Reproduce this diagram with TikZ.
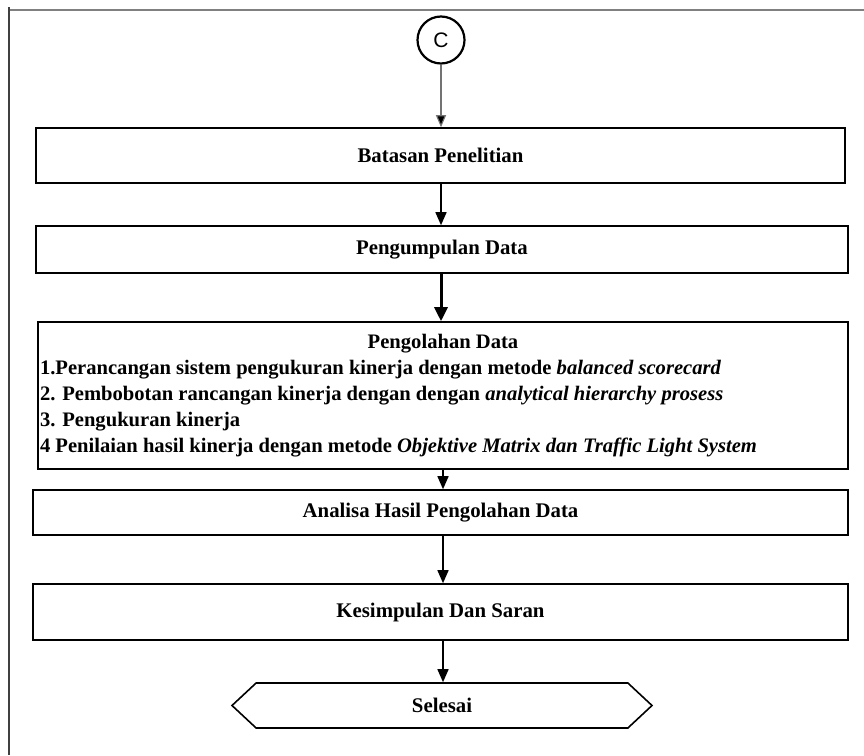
\documentclass[tikz,border=0pt]{standalone}
\usepackage{fontspec}
\setmainfont{Liberation Serif}
\setsansfont{Liberation Sans}
\usetikzlibrary{arrows.meta,shapes.symbols}

\tikzset{
  stepbox/.style={draw=black, line width=1.6pt, rectangle, inner sep=0pt,
    font=\fontsize{20.8}{24}\selectfont\bfseries},
  flow/.style={draw=black, line width=1.5pt, -{Triangle[length=13pt,width=11pt]}},
  flowthick/.style={draw=black, line width=3pt, -{Triangle[length=14pt,width=13pt]}},
  flowthin/.style={draw=black!55, line width=1.1pt, -{Triangle[length=12pt,width=10pt,fill=black]}},
  connector/.style={circle, draw=black, line width=2.2pt, minimum size=47pt, inner sep=0pt,
    font=\sffamily\fontsize{21}{24}\selectfont},
  terminal/.style={signal, signal to=west and east, signal pointer angle=86,
    draw=black, line width=1.6pt, minimum width=420pt, minimum height=45pt, inner sep=0pt,
    font=\fontsize{20.8}{24}\selectfont\bfseries}
}

\begin{document}
\begin{tikzpicture}[x=1pt, y=-1pt]
  \useasboundingbox (0,0) rectangle (864,755);

  % page frame: top and left rules only
  \draw[line width=1.5pt, black!50] (9,10) -- (864,10);
  \draw[line width=1.5pt, black!75] (9,7) -- (9,755);

  % flow column positions
  \coordinate (colA) at (441,0);
  \coordinate (colB) at (443,0);

  \node[connector] (c) at (441,40) {C};

  \node[stepbox, minimum width=809pt, minimum height=55pt] (b1) at (440.5,155.5) {Batasan Penelitian};
  \node[stepbox, minimum width=812pt, minimum height=47pt] (b2) at (442,249.5) {Pengumpulan Data};

  \node[stepbox, minimum width=810pt, minimum height=147pt, font=\fontsize{20.6}{26}\selectfont\bfseries]
    (b3) at (443,395.5) {%
    \begin{minipage}{806pt}\raggedright
      \makebox[\linewidth][c]{Pengolahan Data}\\
      1.Perancangan sistem pengukuran kinerja dengan metode \textit{balanced scorecard}\\
      2. Pembobotan rancangan kinerja dengan dengan \textit{analytical hierarchy prosess}\\
      3. Pengukuran kinerja\\
      4 Penilaian hasil kinerja dengan metode \textit{Objektive Matrix dan Traffic Light System}
    \end{minipage}};

  \node[stepbox, minimum width=815pt, minimum height=45pt] (b4) at (440.5,512.5) {Analisa Hasil Pengolahan Data};
  \node[stepbox, minimum width=815pt, minimum height=56pt] (b5) at (440.5,612) {Kesimpulan Dan Saran};

  \node[terminal] (end) at (442,705.5) {Selesai};

  % connectors
  \draw[flowthin] (c.south) -- (c.south |- b1.north);
  \draw[flow] (b1.south -| colA) -- (b2.north -| colA);
  \draw[flowthick] (b2.south -| colA) -- (b3.north -| colA);
  \draw[flow] (b3.south -| colB) -- (b4.north -| colB);
  \draw[flow] (b4.south -| colB) -- (b5.north -| colB);
  \draw[flow] (b5.south -| colB) -- (end.north -| colB);
\end{tikzpicture}
\end{document}
